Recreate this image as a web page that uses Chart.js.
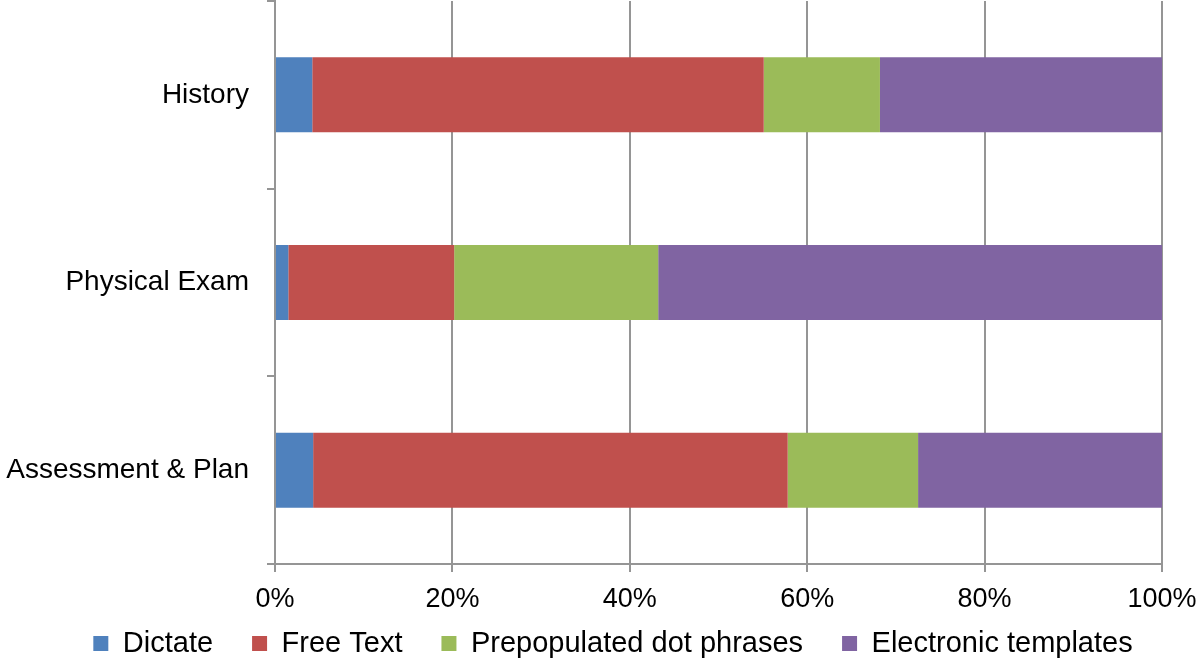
<!DOCTYPE html>
<html>
<head>
<meta charset="utf-8">
<script src="https://cdn.jsdelivr.net/npm/chart.js@4.4.1/dist/chart.umd.min.js"></script>
<style>
html,body{margin:0;padding:0;background:#fff;}
#wrap{width:1200px;height:672px;position:relative;}
</style>
</head>
<body>
<div id="wrap"><canvas id="c" width="1200" height="672"></canvas></div>
<script>
const categories = ["History", "Physical Exam", "Assessment & Plan"];
const seriesNames = ["Dictate", "Free Text", "Prepopulated dot phrases", "Electronic templates"];
const dictate = [4.2, 1.5, 4.3];
const freeText = [50.9, 18.7, 53.5];
const dotPhrases = [13.1, 23.0, 14.7];
const templates = [31.8, 56.8, 27.5];
const xTickStep = 20;
const colors = ["#4F81BD", "#C0504D", "#9BBB59", "#8064A2"];

const seriesValues = [dictate, freeText, dotPhrases, templates];
const gridColor = "#959595";
const font = "'Liberation Sans', Arial, sans-serif";
const noClip = () => undefined;

new Chart(document.getElementById("c"), {
  type: "bar",
  data: {
    labels: categories,
    datasets: seriesNames.map((n, i) => ({
      label: n,
      data: seriesValues[i],
      backgroundColor: colors[i],
      borderWidth: 0,
      categoryPercentage: 1,
      barPercentage: 0.4
    }))
  },
  options: {
    indexAxis: "y",
    responsive: false,
    animation: false,
    layout: { padding: { top: 1, bottom: 4, left: 26, right: 0 } },
    plugins: {
      tooltip: { enabled: false },
      legend: {
        position: "bottom",
        labels: {
          font: { family: font, size: 29 },
          color: "#000",
          boxWidth: 15,
          boxHeight: 15,
          padding: 39
        }
      }
    },
    scales: {
      x: {
        stacked: true,
        min: 0,
        max: 100,
        afterFit: (s) => {
          s.height = 26;
          s.paddingLeft = 0;
          s.paddingRight = 38;
          s._computeLabelArea = noClip;
        },
        ticks: {
          stepSize: xTickStep,
          callback: (v) => v + "%",
          font: { family: font, size: 27 },
          color: "#000",
          padding: 11,
          maxRotation: 0,
          autoSkip: false
        },
        grid: { color: gridColor, lineWidth: 2, tickLength: 8, tickColor: gridColor },
        border: { display: true, color: gridColor, width: 2 }
      },
      y: {
        stacked: true,
        afterFit: (s) => {
          s.width = 249;
          s.paddingTop = 0;
          s.paddingBottom = 0;
          s._computeLabelArea = noClip;
        },
        ticks: {
          font: { family: font, size: 28 },
          color: "#000",
          padding: 18
        },
        grid: { offset: true, drawOnChartArea: false, color: gridColor, lineWidth: 2, tickLength: 8 },
        border: { display: true, color: gridColor, width: 2 }
      }
    }
  }
});
</script>
</body>
</html>
